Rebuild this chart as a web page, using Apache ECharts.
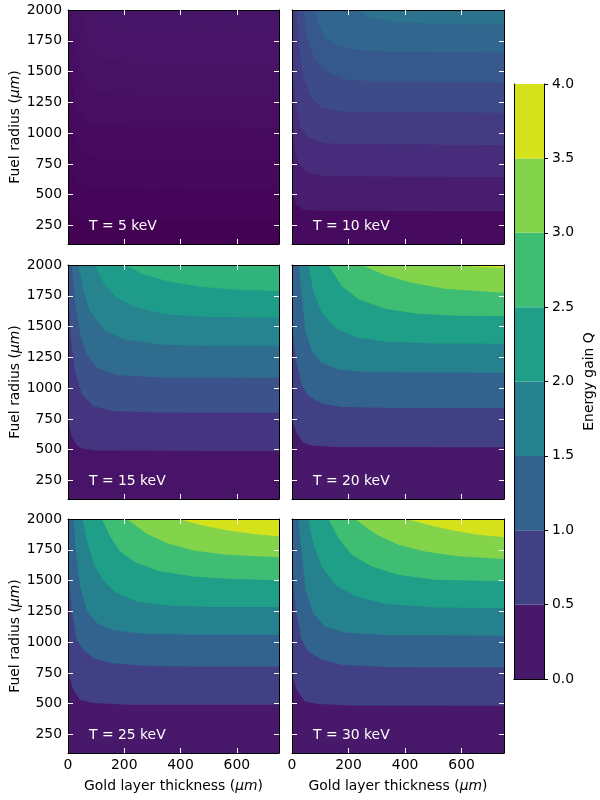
<!DOCTYPE html>
<html>
<head>
<meta charset="utf-8">
<title>Energy gain Q</title>
<script src="https://cdn.jsdelivr.net/npm/echarts@6/dist/echarts.min.js"></script>
<style>
  html, body { margin: 0; padding: 0; background: #fff; }
  #chart { width: 600px; height: 800px; }
</style>
</head>
<body>
<div id="chart"></div>
<script>
// panel temperatures (keV), one filled contour plot each
var temps = [5, 10, 15, 20, 25, 30];

// contour levels of Q used in each panel
var levelsT5  = [0, 0.03, 0.06, 0.09, 0.12, 0.15, 0.18, 0.21, 0.24];
var levelsT10 = [0, 0.2, 0.4, 0.6, 0.8, 1.0, 1.2, 1.4, 1.6];
var levelsT15 = [0, 0.4, 0.8, 1.2, 1.6, 2.0, 2.4, 2.8, 3.2];
var levelsT20 = [0, 0.5, 1.0, 1.5, 2.0, 2.5, 3.0, 3.5, 4.0];
var levelsT25 = [0, 0.5, 1.0, 1.5, 2.0, 2.5, 3.0, 3.5, 4.0];
var levelsT30 = [0, 0.5, 1.0, 1.5, 2.0, 2.5, 3.0, 3.5, 4.0];

// contour boundaries, [gold thickness um, fuel radius um], one per level (lowest first)
var curvesT5 = [
  [[0, 420], [15, 340], [40, 300], [100, 292], [750, 290]],
  [[0, 900], [10, 720], [25, 610], [55, 560], [120, 545], [750, 540]],
  [[0, 1400], [10, 1130], [28, 930], [60, 830], [120, 790], [750, 780]],
  [[0, 1800], [12, 1450], [30, 1200], [65, 1090], [120, 1055], [750, 1040]],
  [[0, 2000], [25, 1720], [45, 1490], [80, 1370], [130, 1320], [250, 1305], [750, 1300]],
  [[0, 2000], [45, 2000], [60, 1800], [90, 1650], [140, 1585], [250, 1565], [750, 1560]],
  [[0, 2000], [110, 2000], [140, 1900], [200, 1850], [330, 1835], [750, 1830]]
];
var curvesT10 = [
  [[0, 501], [16, 420], [40, 379], [93, 369], [750, 366]],
  [[0, 1057], [8, 894], [22, 759], [52, 678], [117, 650], [750, 642]],
  [[0, 1545], [11, 1274], [28, 1057], [58, 962], [117, 916], [750, 902]],
  [[0, 2000], [16, 2000], [25, 1707], [40, 1463], [64, 1301], [105, 1206], [187, 1171], [750, 1165]],
  [[0, 2000], [40, 2000], [52, 1789], [75, 1626], [117, 1504], [187, 1436], [305, 1415], [750, 1409]],
  [[0, 2000], [81, 2000], [93, 1897], [117, 1775], [164, 1707], [235, 1675], [353, 1659], [750, 1653]],
  [[0, 2000], [223, 2000], [282, 1938], [364, 1902], [506, 1889], [750, 1883]]
];
var curvesT15 = [
  [[0, 732], [13, 610], [31, 537], [55, 507], [102, 493], [750, 488]],
  [[0, 1762], [10, 1409], [25, 1138], [49, 949], [90, 854], [161, 813], [327, 802], [750, 799]],
  [[0, 2000], [13, 2000], [25, 1707], [43, 1436], [66, 1274], [102, 1165], [173, 1106], [327, 1087], [750, 1084]],
  [[0, 2000], [37, 2000], [55, 1789], [78, 1626], [126, 1477], [197, 1396], [327, 1355], [505, 1341], [750, 1341]],
  [[0, 2000], [96, 2000], [126, 1856], [173, 1734], [244, 1653], [351, 1599], [505, 1577], [750, 1572]],
  [[0, 2000], [203, 2000], [268, 1924], [351, 1870], [469, 1824], [588, 1802], [750, 1789]],
  [[0, 2000], [493, 2000], [588, 1992], [750, 1984]]
];
var curvesT20 = [
  [[0, 745], [16, 637], [40, 556], [70, 534], [152, 523], [750, 520]],
  [[0, 1491], [16, 1220], [34, 1030], [58, 935], [105, 875], [176, 848], [329, 840], [750, 840]],
  [[0, 2000], [25, 2000], [34, 1762], [48, 1463], [70, 1301], [105, 1206], [164, 1152], [270, 1130], [750, 1125]],
  [[0, 2000], [58, 2000], [75, 1789], [105, 1612], [152, 1491], [223, 1415], [329, 1377], [506, 1363], [750, 1360]],
  [[0, 2000], [128, 2000], [176, 1829], [235, 1721], [329, 1645], [447, 1604], [588, 1588], [750, 1585]],
  [[0, 2000], [246, 2000], [329, 1919], [423, 1856], [541, 1808], [750, 1775]],
  [[0, 2000], [565, 2000], [659, 1986], [750, 1978]]
];
var curvesT25 = [
  [[0, 749], [19, 614], [43, 532], [90, 505], [209, 492], [750, 492]],
  [[0, 1615], [13, 1263], [31, 1020], [55, 938], [90, 871], [149, 830], [268, 808], [446, 803], [750, 803]],
  [[0, 2000], [19, 2000], [28, 1751], [43, 1453], [66, 1263], [102, 1155], [161, 1096], [268, 1068], [446, 1060], [750, 1060]],
  [[0, 2000], [52, 2000], [66, 1832], [90, 1643], [126, 1494], [173, 1399], [244, 1331], [363, 1296], [505, 1285], [750, 1285]],
  [[0, 2000], [120, 2000], [149, 1859], [185, 1737], [244, 1643], [327, 1575], [446, 1534], [564, 1515], [750, 1502]],
  [[0, 2000], [209, 2000], [280, 1881], [351, 1805], [446, 1745], [564, 1710], [750, 1689]],
  [[0, 2000], [392, 2000], [469, 1954], [564, 1908], [659, 1878], [750, 1859]]
];
var curvesT30 = [
  [[0, 749], [16, 614], [46, 519], [93, 497], [211, 486], [750, 484]],
  [[0, 1643], [13, 1263], [34, 1020], [58, 925], [105, 857], [176, 817], [329, 798], [750, 795]],
  [[0, 2000], [22, 2000], [34, 1724], [48, 1426], [75, 1236], [117, 1128], [187, 1079], [329, 1058], [750, 1052]],
  [[0, 2000], [58, 2000], [75, 1805], [105, 1615], [152, 1467], [223, 1372], [329, 1312], [506, 1282], [750, 1277]],
  [[0, 2000], [128, 2000], [164, 1846], [211, 1710], [282, 1615], [376, 1548], [506, 1507], [750, 1494]],
  [[0, 2000], [223, 2000], [294, 1881], [376, 1791], [470, 1737], [588, 1697], [750, 1675]],
  [[0, 2000], [406, 2000], [482, 1954], [565, 1908], [659, 1873], [750, 1854]]
];

// axis ticks
var xTickValues = [200, 400, 600];
var xLabelValues = [0, 200, 400, 600];
var yTickValues = [250, 500, 750, 1000, 1250, 1500, 1750];
var yLabelValues = [250, 500, 750, 1000, 1250, 1500, 1750, 2000];
var colorbarLevels = [0, 0.5, 1.0, 1.5, 2.0, 2.5, 3.0, 3.5, 4.0];

var allLevels = [levelsT5, levelsT10, levelsT15, levelsT20, levelsT25, levelsT30];
var allCurves = [curvesT5, curvesT10, curvesT15, curvesT20, curvesT25, curvesT30];

// viridis colormap, 20 samples
var viridis20 = ['#440154', '#481568', '#482677', '#453781', '#3f4788', '#39558c', '#32648e',
  '#2d718e', '#287d8e', '#238a8d', '#1f968b', '#20a386', '#29af7f', '#3dbc74', '#56c667',
  '#75d054', '#95d840', '#bade28', '#dde318', '#fde725'];

function hexRgb(h) {
  return [parseInt(h.substr(1, 2), 16), parseInt(h.substr(3, 2), 16), parseInt(h.substr(5, 2), 16)];
}

function viridis(v) {
  v = Math.max(0, Math.min(1, v));
  var pos = v * (viridis20.length - 1);
  var i = Math.min(Math.floor(pos), viridis20.length - 2);
  var f = pos - i;
  var a = hexRgb(viridis20[i]), b = hexRgb(viridis20[i + 1]);
  var c = [0, 1, 2].map(function (k) { return Math.round(a[k] + (b[k] - a[k]) * f); });
  return 'rgb(' + c.join(',') + ')';
}

// band colour: midpoint of the band through a 0..4 norm
function bandColor(levels, i) {
  return viridis((levels[i] + levels[i + 1]) / 2 / 4);
}

function plainNumber(v) { return String(v); }

var FONT = 'DejaVu Sans';
var FS = 13.9;
var gridLeft = [68, 292];
var gridWidth = [211, 212];
var gridTop = [10, 265, 519];
var gridHeight = 234;

var grids = [], xAxes = [], yAxes = [], series = [], graphics = [];

for (var p = 0; p < temps.length; p++) {
  var row = Math.floor(p / 2), col = p % 2;
  var levels = allLevels[p];

  grids.push({
    left: gridLeft[col], top: gridTop[row], width: gridWidth[col], height: gridHeight,
    show: true, backgroundColor: bandColor(levels, 0), borderWidth: 0
  });

  var frameLine = { show: true, onZero: false, lineStyle: { color: '#000', width: 1 } };
  var whiteTick = { color: '#fff', width: 1 };

  xAxes.push({
    type: 'value', gridIndex: p, position: 'bottom', min: 0, max: 750, z: 10,
    axisLine: frameLine,
    axisTick: { show: true, inside: true, length: 5, customValues: xTickValues, lineStyle: whiteTick },
    axisLabel: { show: row === 2, customValues: xLabelValues, margin: 5, color: '#000', fontFamily: FONT, fontSize: FS, formatter: plainNumber },
    splitLine: { show: false },
    name: row === 2 ? 'Gold layer thickness ({i|μm})' : '',
    nameLocation: 'middle', nameGap: 26,
    nameTextStyle: { color: '#000', fontFamily: FONT, fontSize: FS, rich: { i: { fontStyle: 'italic', fontFamily: FONT, fontSize: FS } } }
  });
  xAxes.push({
    type: 'value', gridIndex: p, position: 'top', min: 0, max: 750, z: 10,
    axisLine: frameLine,
    axisTick: { show: true, inside: true, length: 5, customValues: xTickValues, lineStyle: whiteTick },
    axisLabel: { show: false }, splitLine: { show: false }
  });
  yAxes.push({
    type: 'value', gridIndex: p, position: 'left', min: 100, max: 2000, z: 10,
    axisLine: frameLine,
    axisTick: { show: true, inside: true, length: 5, customValues: yTickValues, lineStyle: whiteTick },
    axisLabel: { show: col === 0, customValues: yLabelValues, margin: 6, color: '#000', fontFamily: FONT, fontSize: FS, formatter: plainNumber },
    splitLine: { show: false },
    name: col === 0 ? 'Fuel radius ({i|μm})' : '',
    nameLocation: 'middle', nameGap: 46, nameRotate: 90,
    nameTextStyle: { color: '#000', fontFamily: FONT, fontSize: FS, rich: { i: { fontStyle: 'italic', fontFamily: FONT, fontSize: FS } } }
  });
  yAxes.push({
    type: 'value', gridIndex: p, position: 'right', min: 100, max: 2000, z: 10,
    axisLine: frameLine,
    axisTick: { show: true, inside: true, length: 5, customValues: yTickValues, lineStyle: whiteTick },
    axisLabel: { show: false }, splitLine: { show: false }
  });

  var curves = allCurves[p];
  for (var b = 0; b < curves.length; b++) {
    series.push({
      type: 'line', name: 'T' + temps[p] + '_' + levels[b + 1],
      xAxisIndex: 2 * p, yAxisIndex: 2 * p,
      data: curves[b], symbol: 'none', silent: true, clip: true,
      lineStyle: { width: 0 },
      areaStyle: { origin: 'end', color: bandColor(levels, b + 1), opacity: 1 }
    });
  }

  graphics.push({
    type: 'text', left: gridLeft[col] + 21, top: gridTop[row] + gridHeight - 25, z: 100,
    style: { text: 'T = ' + temps[p] + ' keV', fill: '#fff', font: FS + 'px "' + FONT + '"' }
  });
}

// colorbar
var cb = temps.length;
grids.push({ left: 514, top: 84, width: 30, height: 595, show: false });
xAxes.push({
  type: 'category', gridIndex: cb, data: ['Q'], position: 'bottom', z: 10,
  axisLine: { show: true, lineStyle: { color: '#000', width: 1 } },
  axisTick: { show: false }, axisLabel: { show: false }, splitLine: { show: false }
});
xAxes.push({
  type: 'category', gridIndex: cb, data: ['Q'], position: 'top', z: 10,
  axisLine: { show: true, lineStyle: { color: '#000', width: 1 } },
  axisTick: { show: false }, axisLabel: { show: false }, splitLine: { show: false }
});
yAxes.push({
  type: 'value', gridIndex: cb, position: 'right', min: 0, max: 4, interval: 0.5, z: 10,
  axisLine: { show: true, lineStyle: { color: '#000', width: 1 } },
  axisTick: { show: true, inside: false, length: 4, lineStyle: { color: '#000' } },
  axisLabel: {
    margin: 8, color: '#000', fontFamily: FONT, fontSize: FS,
    formatter: function (v) { return v.toFixed(1); }
  },
  splitLine: { show: false },
  name: 'Energy gain Q', nameLocation: 'middle', nameGap: 38, nameRotate: 90,
  nameTextStyle: { color: '#000', fontFamily: FONT, fontSize: FS }
});
yAxes.push({
  type: 'value', gridIndex: cb, position: 'left', min: 0, max: 4, z: 10,
  axisLine: { show: true, lineStyle: { color: '#000', width: 1 } },
  axisTick: { show: false }, axisLabel: { show: false }, splitLine: { show: false }
});
for (var k = 0; k < colorbarLevels.length - 1; k++) {
  series.push({
    type: 'bar', name: 'cb' + k, stack: 'cb', silent: true,
    xAxisIndex: 2 * cb, yAxisIndex: 2 * cb,
    barWidth: '100%',
    data: [colorbarLevels[k + 1] - colorbarLevels[k]],
    itemStyle: { color: bandColor(colorbarLevels, k) }
  });
}

var chart = echarts.init(document.getElementById('chart'));
chart.setOption({
  animation: false,
  backgroundColor: '#fff',
  textStyle: { fontFamily: FONT },
  grid: grids,
  xAxis: xAxes,
  yAxis: yAxes,
  series: series,
  graphic: graphics
});
</script>
</body>
</html>
